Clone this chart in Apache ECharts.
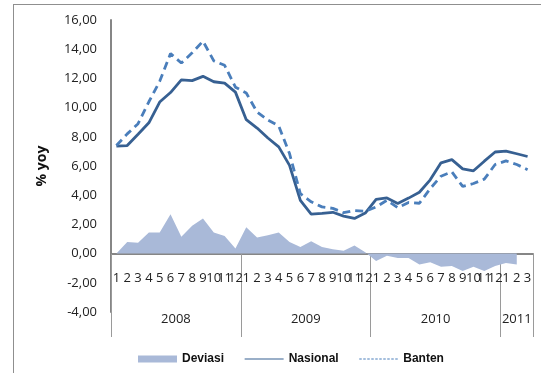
<!DOCTYPE html>
<html><head><meta charset="utf-8">
<script src="https://cdn.jsdelivr.net/npm/echarts@6/dist/echarts.min.js"></script>
<style>
html,body{margin:0;padding:0;background:#fff;overflow:hidden;width:541px;height:373px}
#frame{position:absolute;left:13px;top:4px;width:700px;height:500px;border:1px solid #8f8f8f;}
#main{position:absolute;left:0;top:0;width:541px;height:373px}
</style></head>
<body><div id="frame"></div><div id="main"></div>
<script>
// ---- data ----
const months = ['1','2','3','4','5','6','7','8','9','10','11','12',
                '1','2','3','4','5','6','7','8','9','10','11','12',
                '1','2','3','4','5','6','7','8','9','10','11','12',
                '1','2','3'];
const years = ['2008','2009','2010','2011'];
const yearMonthCounts = [12, 12, 12, 3];
const nasional = [7.36,7.40,8.17,8.96,10.38,11.03,11.90,11.85,12.14,11.77,11.68,11.06,
                  9.17,8.60,7.92,7.31,6.04,3.65,2.71,2.75,2.83,2.57,2.41,2.78,
                  3.72,3.81,3.43,3.80,4.20,5.05,6.22,6.44,5.80,5.67,6.33,6.96,
                  7.02,6.84,6.65];
const banten = [7.40,8.20,8.90,10.40,11.80,13.70,13.05,13.75,14.55,13.20,12.90,11.40,
                11.00,9.70,9.15,8.75,6.85,4.10,3.55,3.20,3.10,2.80,2.95,2.90,
                3.20,3.65,3.15,3.50,3.45,4.45,5.30,5.60,4.60,4.80,5.10,6.10,
                6.35,6.10,5.75];
const deviasi = [0,0.80,0.75,1.45,1.45,2.70,1.15,1.90,2.40,1.45,1.20,0.35,
                 1.80,1.10,1.25,1.45,0.80,0.45,0.85,0.45,0.30,0.20,0.55,0.10,
                 -0.50,-0.15,-0.30,-0.30,-0.75,-0.60,-0.90,-0.85,-1.20,-0.90,-1.20,-0.85,
                 -0.65,-0.75,null];
const yTicks = [-4,-2,0,2,4,6,8,10,12,14,16];

// year group boundaries and centres (in month units)
const yearBounds = [0];
const yearCenters = [];
yearMonthCounts.forEach((c, i) => {
  const start = yearBounds[i];
  yearCenters.push(start + c / 2);
  yearBounds.push(start + c);
});

const FONT = 'Open Sans';
const ZERO_OFFSET = -58; // lifts the category axes from the grid bottom (-4) to the 0 line
const chart = echarts.init(document.getElementById('main'), null, {renderer: 'canvas'});
chart.setOption({
  backgroundColor: 'transparent',
  animation: false,
  grid: {left: 111, right: 8, top: 20, bottom: 61, containLabel: false, outerBoundsMode: 'none'},
  legend: {
    left: 133, top: 348,
    itemWidth: 39, itemHeight: 7, itemGap: 20,
    textStyle: {fontFamily: 'Liberation Sans', fontWeight: 'bold', fontSize: 12, color: '#111'},
    data: [
      {name: 'Deviasi', icon: 'rect'},
      {name: 'Nasional', itemStyle: {color: 'transparent', borderWidth: 0}, lineStyle: {width: 1.2}},
      {name: 'Banten', itemStyle: {color: 'transparent', borderWidth: 0}, lineStyle: {width: 1.2, type: [2.5, 1.5]}}
    ]
  },
  xAxis: [
    {
      type: 'category', data: months, boundaryGap: true, position: 'bottom', offset: ZERO_OFFSET,
      axisLine: {show: true, onZero: false, lineStyle: {color: '#868686', width: 2}},
      axisTick: {show: false},
      axisLabel: {interval: 0, margin: 18, color: '#222', fontFamily: FONT, fontSize: 13, hideOverlap: false},
      splitLine: {show: false}
    },
    {
      type: 'value', min: 0, max: months.length, position: 'bottom', offset: ZERO_OFFSET,
      axisLine: {show: false, onZero: false},
      splitLine: {show: false},
      axisTick: {show: true, customValues: yearBounds, length: 83, lineStyle: {color: '#9a9a9a', width: 1}},
      axisLabel: {
        customValues: yearCenters, margin: 59, color: '#222', fontFamily: FONT, fontSize: 13,
        formatter: v => { const i = yearCenters.indexOf(v); return i >= 0 ? years[i] : ''; }
      }
    }
  ],
  yAxis: {
    type: 'value', min: yTicks[0], max: yTicks[yTicks.length - 1], interval: 2,
    name: '% yoy', nameLocation: 'middle', nameGap: 62,
    nameTextStyle: {fontFamily: FONT, fontWeight: 'bold', fontSize: 14, color: '#111'},
    axisLine: {show: true, lineStyle: {color: '#868686', width: 2}},
    axisTick: {show: false},
    splitLine: {show: false},
    axisLabel: {margin: 14, color: '#222', fontFamily: FONT, fontSize: 13,
      formatter: v => v.toFixed(2).replace('.', ',')}
  },
  series: [
    {
      name: 'Deviasi', type: 'line', data: deviasi, symbol: 'none', color: '#a9b9d8',
      lineStyle: {width: 0}, areaStyle: {color: '#a9b9d8', opacity: 1}, z: 1
    },
    {
      name: 'Nasional', type: 'line', data: nasional, symbol: 'none', color: '#376092',
      lineStyle: {width: 2.8, color: '#376092'}, z: 3
    },
    {
      name: 'Banten', type: 'line', data: banten, symbol: 'none', color: '#4a7ebb',
      lineStyle: {width: 2.8, color: '#4a7ebb', type: [8, 5], cap: 'butt'}, z: 4
    }
  ]
});
</script>
</body></html>
